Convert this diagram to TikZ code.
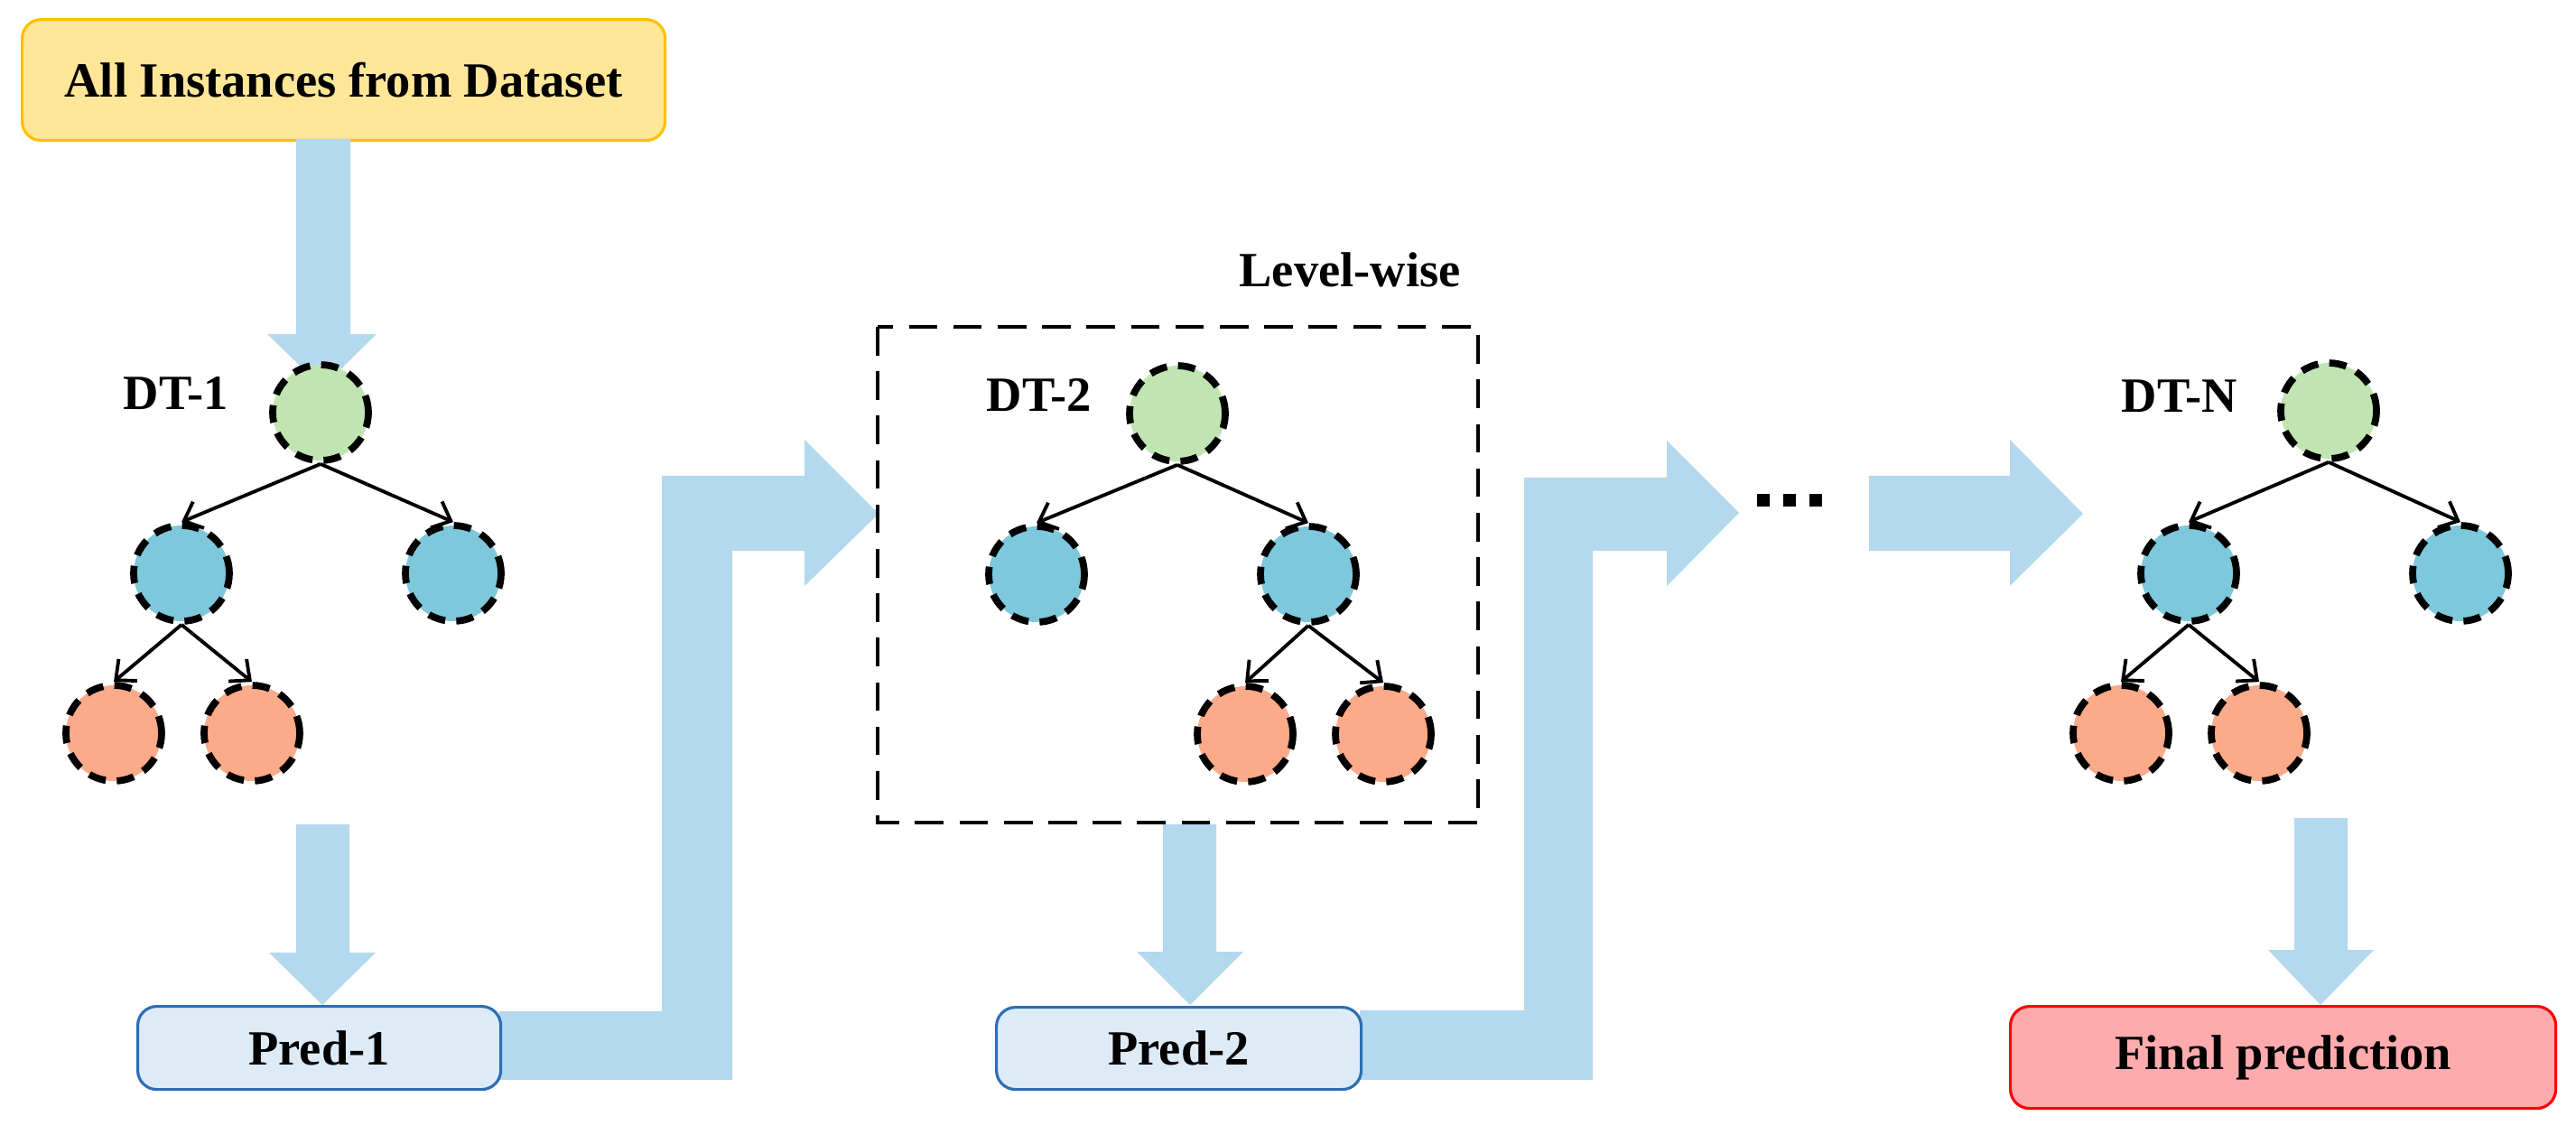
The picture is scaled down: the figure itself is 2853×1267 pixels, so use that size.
\documentclass[tikz,border=0pt]{standalone}
\usepackage{fontspec}
\setmainfont{Liberation Serif}
\usetikzlibrary{arrows.meta}
\definecolor{abl}{HTML}{B4D8EE}
\definecolor{cgr}{HTML}{C0E5B2}
\definecolor{cbl}{HTML}{7EC8DC}
\definecolor{cor}{HTML}{FBAA8A}
\definecolor{pfill}{HTML}{DDEBF7}
\definecolor{pdraw}{HTML}{2E6DB4}
\definecolor{ffill}{HTML}{FFABAE}
\definecolor{yfill}{HTML}{FFE699}
\definecolor{ydraw}{HTML}{FFC000}
\begin{document}
\begin{tikzpicture}[x=0.1mm,y=-0.1mm,
  txt/.style={font=\fontsize{15.5}{18}\selectfont\bfseries},
  cnode/.style={circle,minimum size=10.6mm,inner sep=0pt,draw=black,line width=2.2pt,dash pattern=on 5.5pt off 3.5pt},
  gr/.style={cnode,fill=cgr},
  bl/.style={cnode,fill=cbl},
  orr/.style={cnode,fill=cor},
  edge/.style={line width=1.1pt,-{Straight Barb[length=5pt,width=9pt,line width=1.1pt]}},
  box/.style={rectangle,rounded corners=6pt,line width=0.9pt,txt,anchor=north west},
  big/.style={fill=abl,draw=none}]
\useasboundingbox (0,0) rectangle (2853,1267);
% top box
\node[box,draw=ydraw,fill=yfill,minimum width=71.2mm,minimum height=13.4mm] (top) at (23,20) {All Instances from Dataset};
% arrows down
\fill[big] (328,154) -- (388,154) -- (388,370) -- (417,370) -- (357,429) -- (296,370) -- (328,370) -- cycle;
\fill[big] (328,913) -- (387,913) -- (387,1055) -- (416,1055) -- (357,1113) -- (298,1055) -- (328,1055) -- cycle;
\fill[big] (1288,913) -- (1347,913) -- (1347,1054) -- (1377,1054) -- (1318,1113) -- (1259,1054) -- (1288,1054) -- cycle;
\fill[big] (2541,906) -- (2600,906) -- (2600,1052) -- (2629,1052) -- (2570,1113) -- (2512,1052) -- (2541,1052) -- cycle;
% elbow arrows
\fill[big] (553,1120) -- (733,1120) -- (733,527) -- (891,527) -- (891,487) -- (973,569) -- (891,649) -- (891,610) -- (811,610) -- (811,1196) -- (553,1196) -- cycle;
\fill[big] (1506,1119) -- (1688,1119) -- (1688,529) -- (1846,529) -- (1846,488) -- (1926,568) -- (1846,649) -- (1846,610) -- (1764,610) -- (1764,1196) -- (1506,1196) -- cycle;
\fill[big] (2070,527) -- (2226,527) -- (2226,487) -- (2307,569) -- (2226,649) -- (2226,610) -- (2070,610) -- cycle;
% dots
\foreach \x in {1953,1982,2011} \fill (\x-7,547) rectangle (\x+7,561);
% pred boxes
\node[box,draw=pdraw,fill=pfill,minimum width=40.2mm,minimum height=9.2mm] (p1) at (151,1113) {Pred-1};
\node[box,draw=pdraw,fill=pfill,minimum width=40.4mm,minimum height=9.1mm] (p2) at (1102,1114) {Pred-2};
\node[box,draw=red,fill=ffill,minimum width=60.4mm,minimum height=11.3mm] (fin) at (2225,1113) {Final prediction};
% level-wise box
\draw[line width=1.2pt,dash pattern=on 9pt off 5pt] (972,362) rectangle (1637,911);
\node[txt] (lw) at (1495,299) {Level-wise};
% DT-1
\node[txt] (t1) at (195,436) {DT-1};
\node[gr] (a0) at (355,457) {};
\node[bl] (a1) at (201,635) {};
\node[bl] (a2) at (502,635) {};
\node[orr] (a3) at (126,812) {};
\node[orr] (a4) at (279,812) {};
\draw[edge] (a0.south) -- (a1.north);
\draw[edge] (a0.south) -- (a2.north);
\draw[edge] (a1.south) -- (a3.north);
\draw[edge] (a1.south) -- (a4.north);
% DT-2
\node[txt] (t2) at (1151,438) {DT-2};
\node[gr] (b0) at (1304,458) {};
\node[bl] (b1) at (1148,636) {};
\node[bl] (b2) at (1449,636) {};
\node[orr] (b3) at (1379,813) {};
\node[orr] (b4) at (1532,813) {};
\draw[edge] (b0.south) -- (b1.north);
\draw[edge] (b0.south) -- (b2.north);
\draw[edge] (b2.south) -- (b3.north);
\draw[edge] (b2.south) -- (b4.north);
% DT-N
\node[txt] (tn) at (2414,439) {DT-N};
\node[gr] (c0) at (2579,455) {};
\node[bl] (c1) at (2424,635) {};
\node[bl] (c2) at (2725,635) {};
\node[orr] (c3) at (2349,812) {};
\node[orr] (c4) at (2502,812) {};
\draw[edge] (c0.south) -- (c1.north);
\draw[edge] (c0.south) -- (c2.north);
\draw[edge] (c1.south) -- (c3.north);
\draw[edge] (c1.south) -- (c4.north);
\end{tikzpicture}
\end{document}
